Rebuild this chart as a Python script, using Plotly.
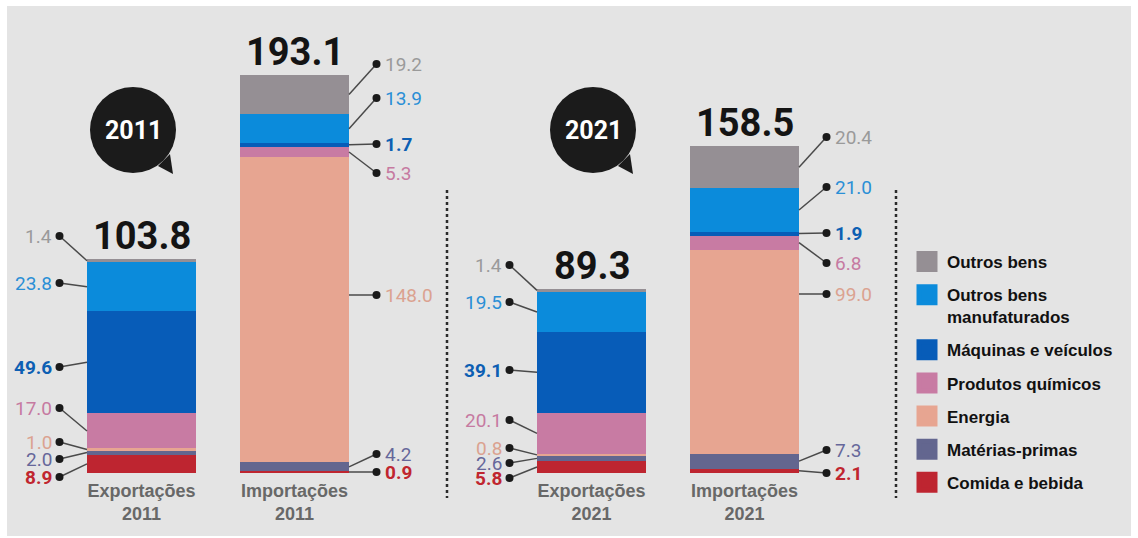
import plotly.graph_objects as go

# ---------------- data ----------------
categories = ["Comida e bebida", "Matérias-primas", "Energia", "Produtos químicos",
              "Máquinas e veículos", "Outros bens manufaturados", "Outros bens"]
legend_names = ["Comida e bebida", "Matérias-primas", "Energia", "Produtos químicos",
                "Máquinas e veículos", "Outros bens<br>manufaturados", "Outros bens"]
bar_labels = ["Exportações<br>2011", "Importações<br>2011", "Exportações<br>2021", "Importações<br>2021"]
exp_2011 = [8.9, 2.0, 1.0, 17.0, 49.6, 23.8, 1.4]
imp_2011 = [0.9, 4.2, 148.0, 5.3, 1.7, 13.9, 19.2]
exp_2021 = [5.8, 2.6, 0.8, 20.1, 39.1, 19.5, 1.4]
imp_2021 = [2.1, 7.3, 99.0, 6.8, 1.9, 21.0, 20.4]
totals = [103.8, 193.1, 89.3, 158.5]
years = ["2011", "2021"]

series = [exp_2011, imp_2011, exp_2021, imp_2021]

# ---------------- styles / layout ----------------
bar_colors = ["#be2530", "#63668f", "#e7a591", "#c87ba3", "#075cb8", "#0b8bdb", "#958f94"]
label_colors = ["#c0262f", "#66679a", "#dba290", "#c67aa1", "#0d5fb3", "#2a8fd6", "#9a9a9a"]
label_bold = [True, False, False, False, True, False, False]

W, H = 1138, 538
BASE_PY = 473
PX_PER_UNIT = 2.061


def yv(py):
    return (BASE_PY - py) / PX_PER_UNIT


BAR_X = [141.5, 294.5, 591.5, 744.5]
BAR_W = 109
SIDE = [-1, 1, -1, 1]
LABEL_PY = [
    [477, 459, 442, 408, 367, 283, 236],
    [472, 454, 295, 173, 144, 98, 64],
    [478, 463, 448, 420, 370, 302, 265],
    [473, 450, 294, 263, 233, 187, 137],
]
NARROW = "Roboto, Liberation Sans Narrow, sans-serif"
SANS = "Liberation Sans, Arial, sans-serif"

fig = go.Figure()

for i, cat in enumerate(categories):
    fig.add_trace(go.Bar(
        x=BAR_X, y=[s[i] for s in series], width=BAR_W, name=cat,
        marker=dict(color=bar_colors[i], line=dict(width=0)),
        showlegend=False, hovertemplate=cat + ": %{y}<extra></extra>",
    ))

# leader lines, dots and value labels
lx, ly, dx, dy = [], [], [], []
annotations = []
for b, s in enumerate(series):
    side = SIDE[b]
    edge_x = BAR_X[b] + side * BAR_W / 2
    dot_x = edge_x + side * 27.5
    base = 0.0
    for i, v in enumerate(s):
        lab_y = yv(LABEL_PY[b][i])
        if v * PX_PER_UNIT > 150:
            att = lab_y
        else:
            att = base + v / 2
        lx += [dot_x, edge_x, None]
        ly += [lab_y, att, None]
        dx.append(dot_x)
        dy.append(lab_y)
        annotations.append(dict(
            x=dot_x + side * 6, y=lab_y, xref="x", yref="y",
            text=f"{v:.1f}", showarrow=False,
            xanchor="left" if side > 0 else "right", yanchor="middle",
            font=dict(family=NARROW, size=19, color=label_colors[i],
                      weight="bold" if label_bold[i] else "normal"),
        ))
        base += v
    annotations.append(dict(
        x=BAR_X[b], y=base, xref="x", yref="y", text=f"{totals[b]:.1f}",
        showarrow=False, xanchor="center", yanchor="bottom", yshift=-1,
        font=dict(family=NARROW, size=38, color="#141414", weight="bold"),
    ))

fig.add_trace(go.Scatter(x=lx, y=ly, mode="lines", line=dict(color="#4a4a4a", width=1.5),
                         showlegend=False, hoverinfo="skip", cliponaxis=False))
fig.add_trace(go.Scatter(x=dx, y=dy, mode="markers", marker=dict(color="#1a1a1a", size=8),
                         showlegend=False, hoverinfo="skip", cliponaxis=False))

# legend entries (top to bottom)
for i in reversed(range(len(categories))):
    fig.add_trace(go.Scatter(
        x=[None], y=[None], mode="markers", name=legend_names[i], legendgroup=categories[i],
        marker=dict(symbol="square", size=16, color=bar_colors[i],
                    line=dict(color=bar_colors[i], width=5)),
        hoverinfo="skip",
    ))

shapes = [dict(type="rect", xref="paper", yref="paper", x0=7 / W, x1=1131 / W,
               y0=2 / H, y1=(H - 6) / H, fillcolor="#e4e4e4", line=dict(width=0), layer="below")]

# year bubbles
for cx, yr in zip([133, 593], years):
    cy = 130
    r = 43
    shapes.append(dict(type="circle", xref="x", yref="y", x0=cx - r, x1=cx + r,
                       y0=yv(cy + r), y1=yv(cy - r), fillcolor="#1b1b1b", line=dict(width=0)))
    pts = [(cx + 25, cy + 36), (cx + 40, cy + 44), (cx + 37, cy + 24)]
    path = "M " + " L ".join(f"{px},{yv(py)}" for px, py in pts) + " Z"
    shapes.append(dict(type="path", xref="x", yref="y", path=path,
                       fillcolor="#1b1b1b", line=dict(width=0)))
    annotations.append(dict(x=cx, y=yv(cy), xref="x", yref="y", text=yr, showarrow=False,
                            font=dict(family=NARROW, size=25, color="white", weight="bold")))

# dotted separators
for sx in [447, 896]:
    shapes.append(dict(type="line", xref="x", yref="y", x0=sx, x1=sx, y0=yv(190), y1=yv(498),
                       line=dict(color="#2a2a2a", width=2.5, dash="dot")))

fig.update_layout(
    width=W, height=H, barmode="stack",
    margin=dict(l=0, r=0, t=0, b=0),
    paper_bgcolor="white", plot_bgcolor="rgba(0,0,0,0)",
    xaxis=dict(range=[0, W], showgrid=False, zeroline=False, showline=False,
               tickvals=BAR_X, ticktext=bar_labels, ticks="", ticklabelstandoff=5,
               tickfont=dict(family=SANS, size=18, color="#686868", weight="bold"),
               anchor="free", position=(H - BASE_PY) / H, fixedrange=True),
    yaxis=dict(range=[yv(H), yv(0)], visible=False, fixedrange=True),
    legend=dict(x=907 / W, y=(H - 244) / H, xanchor="left", yanchor="top",
                bgcolor="rgba(0,0,0,0)", font=dict(family=SANS, size=17, color="#111111", weight="bold"),
                tracegroupgap=8, valign="top", traceorder="grouped"),
    shapes=shapes, annotations=annotations,
    showlegend=True,
)

fig.write_html("out.html")
